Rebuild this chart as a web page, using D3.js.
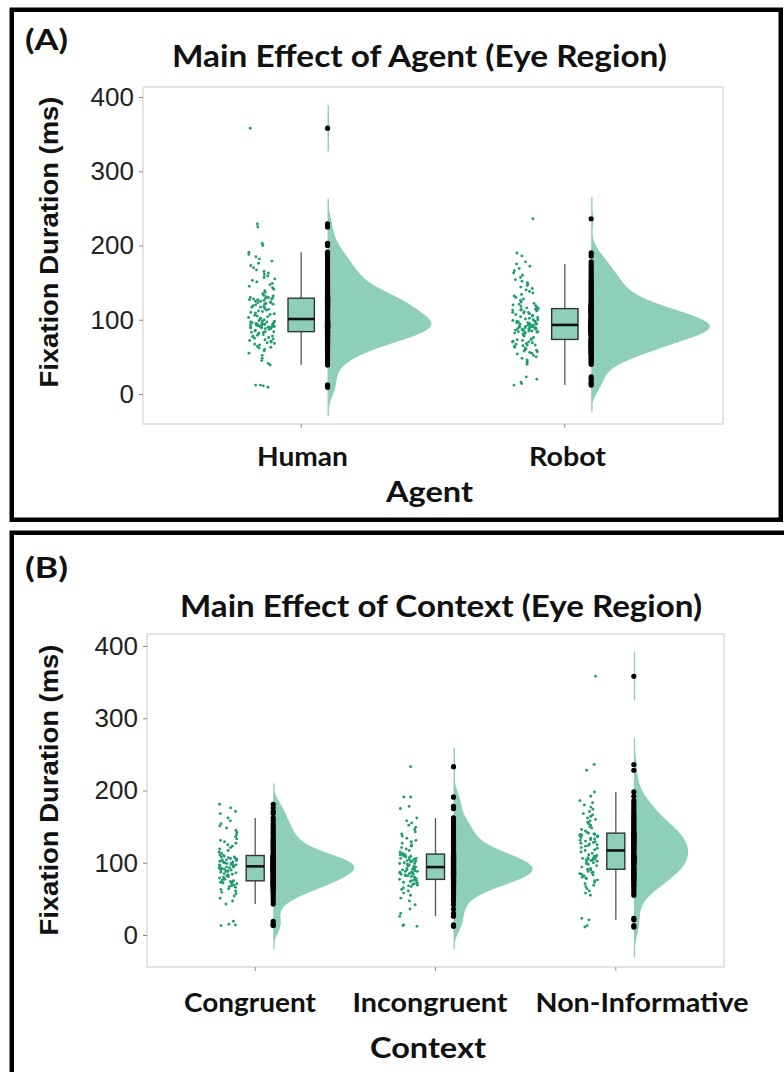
<!DOCTYPE html>
<html>
<head>
<meta charset="utf-8">
<script src="https://cdn.jsdelivr.net/npm/d3@7"></script>
<style>
  body { margin: 0; background: #fff; }
  svg { display: block; }
</style>
</head>
<body>
<svg id="chart" width="784" height="1072"></svg>
<script>
// ---- data -------------------------------------------------------------
const agentCategories = ["Human", "Robot"];
const contextCategories = ["Congruent", "Incongruent", "Non-Informative"];
const yTickValues = [0, 100, 200, 300, 400];

// Fixation durations (ms), eye region, by agent
const humanValues = [9, 11, 12, 12, 39, 41,
  45, 48, 52, 55, 58, 60, 62, 63, 64, 66, 67, 68, 69, 70, 71, 72, 73, 74, 75, 76, 77, 78, 78, 79, 80, 81, 82, 83, 83, 84,
  84, 85, 86, 87, 88, 88, 89, 89, 90, 90, 90, 91, 91, 91, 92, 92, 92, 93, 93, 93, 94, 94, 94, 95, 95, 95, 96, 96, 97, 97, 98, 98, 99, 100, 101,
  102, 103, 104, 105, 106, 107, 108, 109, 110, 111, 112, 113, 114, 115, 116, 117, 117, 118, 119, 120, 121, 121, 122, 123, 123, 124, 125, 125, 126, 127, 127, 128, 128, 129, 129,
  130, 130, 131, 132, 133, 135, 137, 139, 141, 143, 145, 147, 149, 151, 153, 155, 157, 159, 161, 163, 165, 167, 170, 173, 176, 179, 182, 185, 188, 191, 200, 203, 225, 229, 358];

const robotValues = [12, 14, 16, 20, 23,
  40, 42, 44, 46, 48, 50, 52, 54, 55, 56, 57, 58, 59, 60, 61, 62, 63, 64, 65, 66, 66, 67, 68, 69, 70, 70, 71, 72, 73, 73, 74,
  76, 78, 79, 80, 81, 82, 82, 83, 83, 84, 84, 85, 85, 85, 86, 86, 86, 87, 87, 87, 88, 88, 88, 89, 89, 89, 90, 90, 90, 91, 91, 92, 92, 93, 93,
  93, 94, 94, 95, 95, 96, 96, 97, 97, 98, 98, 99, 100, 100, 101, 102, 103, 104, 105, 106, 107, 108, 109, 110, 110, 111, 112, 112, 113, 113, 114, 114, 115, 115, 116,
  117, 118, 119, 120, 121, 122, 124, 126, 128, 130, 132, 134, 136, 138, 140, 142, 144, 146, 148, 150, 152, 154, 157, 160, 163, 166, 169, 172, 175, 178, 186, 190, 236];

// Fixation durations (ms), eye region, by context
const congruentValues = [13, 14, 15, 19,
  43, 47, 51, 54, 57, 59, 61, 63, 64, 66, 67, 68, 69, 70, 71, 72, 72, 73, 73, 74, 74, 75,
  76, 77, 78, 79, 80, 81, 82, 83, 84, 85, 86, 87, 88, 88, 89, 90, 90, 91, 92, 92, 93, 93, 94, 94, 95,
  95, 96, 96, 97, 97, 98, 98, 99, 99, 100, 100, 101, 102, 102, 103, 104, 104, 105, 106, 106, 107, 108, 108, 109, 110,
  111, 113, 115, 117, 119, 121, 123, 125, 127, 129, 131, 133, 136, 139, 142, 145, 148, 151, 154, 158, 162, 168, 171, 176, 181];

const incongruentValues = [12, 13, 14, 26,
  30, 36, 42, 47, 51, 55, 58, 61, 63, 65, 67, 68, 69, 70, 71, 72, 73, 74, 75, 75, 76, 77,
  78, 79, 80, 81, 82, 82, 83, 84, 84, 85, 86, 86, 87, 87, 88, 88, 89, 89, 90, 90, 91, 92, 92, 93, 94,
  94, 95, 96, 96, 97, 98, 99, 99, 100, 101, 102, 102, 103, 104, 105, 106, 106, 107, 108, 109, 109, 110, 111, 111, 112,
  113, 115, 117, 119, 121, 123, 125, 127, 129, 131, 134, 137, 140, 143, 146, 149, 152, 155, 158, 162, 175, 178, 191, 191, 233];

const nonInformativeValues = [11, 13, 21, 23,
  55, 58, 61, 64, 67, 69, 71, 73, 75, 76, 78, 79, 80, 82, 83, 84, 85, 86, 87, 88, 90, 91,
  92, 94, 96, 98, 99, 100, 101, 102, 103, 104, 104, 105, 105, 106, 106, 107, 107, 108, 108, 109, 110, 111, 113, 115, 117,
  118, 120, 121, 123, 124, 125, 126, 127, 128, 129, 130, 131, 132, 133, 134, 135, 136, 137, 138, 138, 139, 139, 140, 140, 141,
  142, 144, 146, 148, 150, 152, 154, 156, 158, 160, 162, 164, 166, 168, 171, 174, 177, 180, 183, 186, 192, 198, 228, 236, 358];

// ---- styling ------------------------------------------------------------
const FILL_LIGHT = "#8dcfba";
const POINT_GREEN = "#1f9c73";
const TITLE_FONT = "Lato, 'Open Sans', sans-serif";
const AXIS_FONT = "'Liberation Sans', Arial, sans-serif";
const BW_ADJUST = 1.4;

const svg = d3.select("#chart");

// ---- helpers ------------------------------------------------------------
function bandwidthNrd0(v) {
  const s = d3.deviation(v);
  const iqr = d3.quantile(v, 0.75) - d3.quantile(v, 0.25);
  const lo = Math.min(s, iqr / 1.34);
  return 0.9 * lo * Math.pow(v.length, -0.2);
}

function gaussianDensity(v, bw) {
  const lo = d3.min(v) - 3 * bw, hi = d3.max(v) + 3 * bw;
  const n = 512, k = 1 / (v.length * bw * Math.sqrt(2 * Math.PI));
  return d3.range(n).map(i => {
    const x = lo + (hi - lo) * i / (n - 1);
    let s = 0;
    for (const d of v) { const u = (x - d) / bw; s += Math.exp(-0.5 * u * u); }
    return [x, s * k];
  });
}

function boxStats(v) {
  const s = v.slice().sort(d3.ascending);
  const q1 = d3.quantile(s, 0.25), med = d3.quantile(s, 0.5), q3 = d3.quantile(s, 0.75);
  const iqr = q3 - q1;
  const lo = d3.min(s.filter(d => d >= q1 - 1.5 * iqr));
  const hi = d3.max(s.filter(d => d <= q3 + 1.5 * iqr));
  return { q1, med, q3, lo, hi };
}

// deterministic horizontal spread for the raw-point strip
function spread(i, seed) {
  const s = Math.sin((i + 1) * 12.9898 + seed * 78.233) * 43758.5453;
  return s - Math.floor(s);
}

function addText(g, str, x, y, o) {
  const t = g.append("text")
    .attr("x", x).attr("y", y)
    .attr("font-family", o.family || TITLE_FONT)
    .attr("font-weight", o.weight || 700)
    .attr("font-size", o.size)
    .attr("fill", o.fill || "#111")
    .attr("text-anchor", o.anchor || "middle")
    .text(str);
  if (o.len) t.attr("textLength", o.len).attr("lengthAdjust", "spacingAndGlyphs");
  if (o.transform) t.attr("transform", o.transform);
  return t;
}

// ---- one raincloud panel --------------------------------------------------
function drawPanel(p) {
  const g = svg.append("g");

  // outer frame
  g.append("rect")
    .attr("x", p.frame[0]).attr("y", p.frame[1])
    .attr("width", p.frame[2]).attr("height", p.frame[3])
    .attr("fill", "none").attr("stroke", "#000").attr("stroke-width", 4.5);

  const x = d3.scaleBand()
    .domain(p.categories)
    .range([p.left, p.right]);
  // ggplot discrete expansion: 0.6 units each side
  const unit = (p.right - p.left) / (p.categories.length + 0.2);
  const cx = c => p.left + (0.6 + p.categories.indexOf(c)) * unit;

  const y = d3.scaleLinear().domain([0, 400]).range([p.y0, p.y400]);

  // panel background + border
  g.append("rect")
    .attr("x", p.left).attr("y", p.top)
    .attr("width", p.right - p.left).attr("height", p.bottom - p.top)
    .attr("fill", "#fff").attr("stroke", "#d6d6d6").attr("stroke-width", 1.3);

  const clip = "clip-" + p.id;
  g.append("clipPath").attr("id", clip)
    .append("rect").attr("x", p.left).attr("y", p.top)
    .attr("width", p.right - p.left).attr("height", p.bottom - p.top);
  const plot = g.append("g").attr("clip-path", `url(#${clip})`);

  // y axis
  const yAxis = d3.axisLeft(y).tickValues(yTickValues).tickSize(4).tickPadding(5);
  const ya = g.append("g").attr("transform", `translate(${p.left},0)`).call(yAxis);
  ya.select(".domain").remove();
  ya.selectAll(".tick line").attr("stroke", "#8c8c8c").attr("stroke-width", 1);
  ya.selectAll(".tick text")
    .attr("font-family", AXIS_FONT).attr("font-size", 26).attr("fill", "#222");

  // x ticks
  const xAxis = d3.axisBottom(x).tickSize(4).tickFormat("");
  const xa = g.append("g").attr("transform", `translate(0,${p.bottom})`).call(xAxis);
  xa.select(".domain").remove();
  xa.selectAll(".tick").attr("transform", d => `translate(${cx(d)},0)`);
  xa.selectAll(".tick line").attr("stroke", "#8c8c8c").attr("stroke-width", 1);

  // densities, scaled by the largest peak in the panel
  const dens = p.series.map(v => gaussianDensity(v, BW_ADJUST * bandwidthNrd0(v)));
  const maxD = d3.max(dens, d => d3.max(d, e => e[1]));
  const maxW = 0.45 * unit;

  p.categories.forEach((cat, ci) => {
    const v = p.series[ci];
    const c = cx(cat);
    const base = c + 0.1 * unit;

    // half violin
    const area = d3.area()
      .y(d => y(d[0]))
      .x0(base)
      .x1(d => {
        let w = d[1] / maxD * maxW;
        w = w > 0.25 ? Math.max(w, 1.4) : 0;
        return base + w;
      })
      .curve(d3.curveBasis);
    plot.append("path").datum(dens[ci])
      .attr("d", area).attr("fill", FILL_LIGHT);

    // raw points strip
    plot.append("g").selectAll("circle").data(v).join("circle")
      .attr("cx", (d, i) => c - 0.15 * unit + (spread(i, ci + p.seed) * 2 - 1) * 0.05 * unit)
      .attr("cy", d => y(d))
      .attr("r", 1.45)
      .attr("fill", POINT_GREEN);

    // box plot
    const b = boxStats(v);
    const bw = 0.1 * unit;
    plot.append("line")
      .attr("x1", c).attr("x2", c).attr("y1", y(b.hi)).attr("y2", y(b.q3))
      .attr("stroke", "#555").attr("stroke-width", 1.3);
    plot.append("line")
      .attr("x1", c).attr("x2", c).attr("y1", y(b.q1)).attr("y2", y(b.lo))
      .attr("stroke", "#555").attr("stroke-width", 1.3);
    plot.append("rect")
      .attr("x", c - bw / 2).attr("y", y(b.q3))
      .attr("width", bw).attr("height", y(b.q1) - y(b.q3))
      .attr("fill", FILL_LIGHT).attr("stroke", "#333").attr("stroke-width", 1.4);
    plot.append("line")
      .attr("x1", c - bw / 2).attr("x2", c + bw / 2)
      .attr("y1", y(b.med)).attr("y2", y(b.med))
      .attr("stroke", "#111").attr("stroke-width", 2.6);

    // data column beside the cloud
    plot.append("g").selectAll("circle").data(v).join("circle")
      .attr("cx", base).attr("cy", d => y(d))
      .attr("r", 2.6).attr("fill", "#000");
  });

  // labels
  addText(g, p.tag, p.tagX, p.tagY, { size: 28, anchor: "start", len: 43 });
  addText(g, p.title, p.titleX, p.titleY, { size: 30, len: p.titleLen });
  addText(g, "Fixation Duration (ms)", 0, 0, {
    family: AXIS_FONT, size: 26, len: 291,
    transform: `translate(58,${p.yTitleY}) rotate(-90)`
  });
  p.categories.forEach((cat, i) => {
    addText(g, cat, p.catX[i], p.catY, { size: 26, len: p.catLen[i] });
  });
  addText(g, p.xTitle, p.xTitleX, p.xTitleY, { size: 29, len: p.xTitleLen });
}

drawPanel({
  id: "agent", seed: 1,
  frame: [11.75, 9.75, 769, 510],
  categories: agentCategories,
  series: [humanValues, robotValues],
  left: 143, right: 723, top: 87, bottom: 424,
  y0: 394, y400: 97,
  tag: "(A)", tagX: 25, tagY: 50,
  title: "Main Effect of Agent (Eye Region)", titleX: 419.5, titleY: 67, titleLen: 495,
  yTitleY: 242,
  catX: [302.5, 567.5], catY: 466, catLen: [91, 77],
  xTitle: "Agent", xTitleX: 429.5, xTitleY: 502, xTitleLen: 87
});

drawPanel({
  id: "context", seed: 7,
  frame: [11.75, 532.75, 790, 600],
  categories: contextCategories,
  series: [congruentValues, incongruentValues, nonInformativeValues],
  left: 147, right: 724, top: 634, bottom: 967,
  y0: 935, y400: 646,
  tag: "(B)", tagX: 25, tagY: 578,
  title: "Main Effect of Context (Eye Region)", titleX: 441, titleY: 617, titleLen: 522,
  yTitleY: 790,
  catX: [250, 430, 642], catY: 1012, catLen: [132, 155, 213],
  xTitle: "Context", xTitleX: 428, xTitleY: 1058, xTitleLen: 116
});
</script>
</body>
</html>
